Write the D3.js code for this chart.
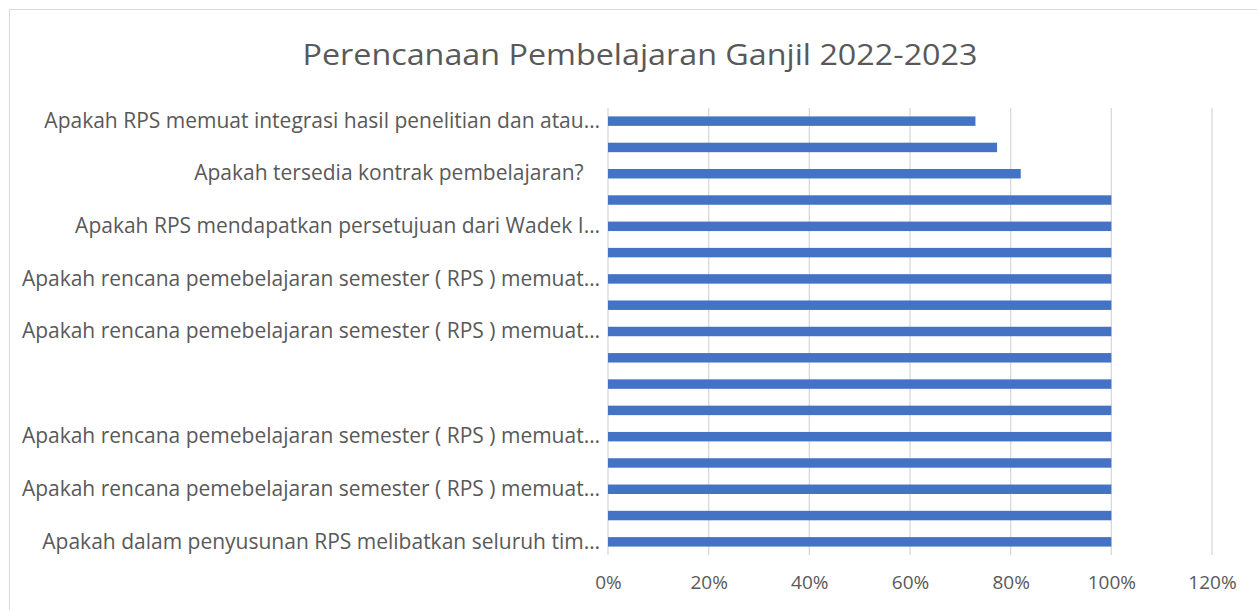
<!DOCTYPE html>
<html>
<head>
<meta charset="utf-8">
<script src="https://cdn.jsdelivr.net/npm/d3@7"></script>
<style>
  body { margin: 0; background: #fff; }
  svg { display: block; }
  .ylab text { white-space: pre; }
</style>
</head>
<body>
<div class="canvas"></div>
<script>
// category labels, top to bottom (Excel only shows every other one)
const labels = [
    'Apakah RPS memuat integrasi hasil penelitian dan atau…',
    '',
    'Apakah tersedia kontrak pembelajaran?   ',
    '',
    'Apakah RPS mendapatkan persetujuan dari Wadek I…',
    '',
    'Apakah rencana pemebelajaran semester ( RPS ) memuat…',
    '',
    'Apakah rencana pemebelajaran semester ( RPS ) memuat…',
    '',
    '',
    '',
    'Apakah rencana pemebelajaran semester ( RPS ) memuat…',
    '',
    'Apakah rencana pemebelajaran semester ( RPS ) memuat…',
    '',
    'Apakah dalam penyusunan RPS melibatkan seluruh tim…'
];

const values = [0.73, 0.773, 0.82, 1, 1, 1, 1, 1, 1, 1, 1, 1, 1, 1, 1, 1, 1];
const ticks = [0, 0.2, 0.4, 0.6, 0.8, 1.0, 1.2];

const width = 1257, height = 610;
const margin = { top: 108, right: 45, bottom: 55, left: 608 };

const svg = d3.select('.canvas')
    .append('svg')
    .attr('width', width)
    .attr('height', height);

// chart border
svg.append('rect')
    .attr('x', 9.5).attr('y', 9.5)
    .attr('width', width + 10).attr('height', height + 10)
    .attr('fill', 'none')
    .attr('stroke', '#d9d9d9');

svg.append('text')
    .attr('x', 640).attr('y', 65)
    .attr('text-anchor', 'middle')
    .attr('font-family', '"Open Sans", sans-serif')
    .attr('font-size', 30)
    .attr('fill', '#595959')
    .attr('textLength', 675)
    .attr('lengthAdjust', 'spacingAndGlyphs')
    .text('Perencanaan Pembelajaran Ganjil 2022-2023');

const x = d3.scaleLinear()
    .domain([0, 1.2])
    .range([margin.left, 1212]);

const y = d3.scaleBand()
    .domain(d3.range(labels.length))
    .range([margin.top, height - margin.bottom])
    .paddingInner(0.64)
    .paddingOuter(0.32);

// gridlines
svg.append('g')
    .selectAll('line')
    .data(ticks)
    .enter()
    .append('line')
    .attr('x1', d => x(d)).attr('x2', d => x(d))
    .attr('y1', margin.top).attr('y2', height - margin.bottom)
    .attr('stroke', '#d9d9d9')
    .attr('stroke-width', 1.3);

// bars
svg.append('g')
    .selectAll('rect')
    .data(values)
    .enter()
    .append('rect')
    .attr('x', x(0))
    .attr('y', (d, i) => y(i))
    .attr('width', d => x(d) - x(0))
    .attr('height', y.bandwidth())
    .attr('fill', '#4472c4');

// x axis
const xAxis = d3.axisBottom(x)
    .tickValues(ticks)
    .tickSize(0)
    .tickPadding(21)
    .tickFormat(d3.format('.0%'));

const xAxisGroup = svg.append('g')
    .attr('transform', `translate(0, ${height - margin.bottom})`)
    .call(xAxis);
xAxisGroup.select('.domain').remove();
xAxisGroup.selectAll('text')
    .attr('font-family', '"Open Sans", sans-serif')
    .attr('font-size', 19)
    .attr('fill', '#595959');

// y axis
const yAxis = d3.axisLeft(y)
    .tickSize(0)
    .tickPadding(8)
    .tickFormat(i => labels[i]);

const yAxisGroup = svg.append('g')
    .attr('class', 'ylab')
    .attr('transform', `translate(${margin.left}, 0)`)
    .call(yAxis);
yAxisGroup.select('.domain').remove();
yAxisGroup.selectAll('text')
    .attr('font-family', '"Open Sans", sans-serif')
    .attr('font-size', 21)
    .attr('fill', '#595959');
</script>
</body>
</html>
